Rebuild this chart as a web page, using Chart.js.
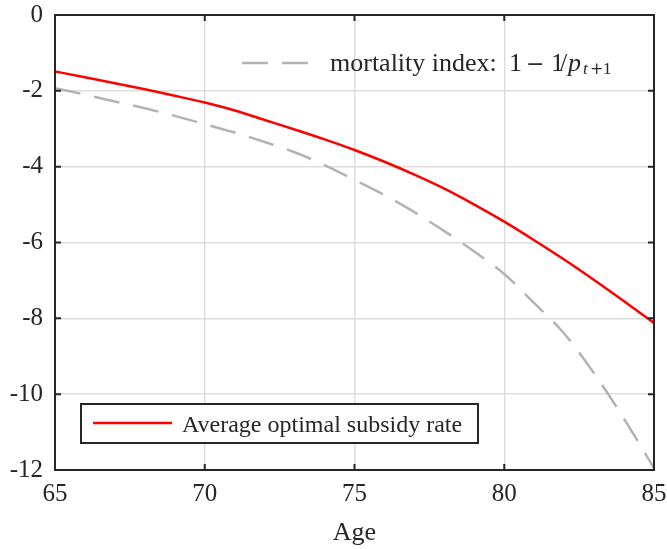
<!DOCTYPE html>
<html>
<head>
<meta charset="utf-8">
<script src="https://cdn.jsdelivr.net/npm/chart.js@4"></script>
<style>
  html, body { margin: 0; padding: 0; background: #ffffff; }
  canvas { display: block; }
</style>
</head>
<body>
<canvas id="grafico" width="667" height="549"></canvas>
<script>
// values by age
const ages = [65, 66, 67, 68, 69, 70, 71, 72, 73, 74, 75, 76, 77, 78, 79, 80, 81, 82, 83, 84, 85];
const subsidyRate = [-1.49, -1.64, -1.80, -1.96, -2.13, -2.31, -2.52, -2.77, -3.02, -3.28, -3.56, -3.87, -4.21, -4.58, -5.00, -5.45, -5.94, -6.45, -6.99, -7.55, -8.12];
const mortalityIndex = [-1.93, -2.10, -2.28, -2.46, -2.66, -2.88, -3.10, -3.35, -3.62, -3.96, -4.35, -4.75, -5.20, -5.70, -6.24, -6.83, -7.60, -8.40, -9.45, -10.65, -11.95];

const xTicks = [65, 70, 75, 80, 85];
const yTicks = [0, -2, -4, -6, -8, -10, -12];

const INK = "#262626";
const GRID = "#dddddd";
const SERIF = "'Liberation Serif', 'Times New Roman', serif";
const WIDE_SERIF = "'DejaVu Serif', serif";

function pontos(valores) {
    return ages.map((a, i) => ({ x: a, y: valores[i] }));
}

// keep the plot box fixed: no extra room for overhanging tick labels
function semSobra(s) {
    s.paddingTop = 0;
    s.paddingBottom = 0;
    s.paddingLeft = 0;
    s.paddingRight = 0;
}

// frame around the plot with inward tick marks on every side
const moldura = {
    id: "moldura",
    afterDatasetsDraw(chart) {
        const { ctx, chartArea: a, scales } = chart;
        const len = 6;
        ctx.save();
        ctx.strokeStyle = INK;
        ctx.lineWidth = 2;
        ctx.beginPath();
        xTicks.forEach(v => {
            const px = scales.x.getPixelForValue(v);
            ctx.moveTo(px, a.bottom); ctx.lineTo(px, a.bottom - len);
            ctx.moveTo(px, a.top); ctx.lineTo(px, a.top + len);
        });
        yTicks.forEach(v => {
            const py = scales.y.getPixelForValue(v);
            ctx.moveTo(a.left, py); ctx.lineTo(a.left + len, py);
            ctx.moveTo(a.right, py); ctx.lineTo(a.right - len, py);
        });
        ctx.stroke();
        ctx.strokeRect(a.left, a.top, a.right - a.left, a.bottom - a.top);
        ctx.restore();
    }
};

// two separate legends: plain one top right, boxed one bottom left
const legendas = {
    id: "legendas",
    afterDraw(chart) {
        const ctx = chart.ctx;
        const ds = chart.data.datasets;
        ctx.save();

        // mortality index legend
        ctx.strokeStyle = ds[1].borderColor;
        ctx.lineWidth = ds[1].borderWidth;
        ctx.setLineDash(ds[1].borderDash);
        ctx.beginPath();
        ctx.moveTo(242, 63);
        ctx.lineTo(312, 63);
        ctx.stroke();
        ctx.setLineDash([]);

        ctx.fillStyle = INK;
        ctx.textBaseline = "alphabetic";
        ctx.textAlign = "left";
        const base = 71;
        ctx.font = "26px " + SERIF;
        ctx.fillText("mortality index:", 330, base);

        // 1 − 1/p_{t+1}, laid out piece by piece
        const formula = [
            ["1", 509, "26px ", SERIF, 0],
            ["\u2212", 526, "22px ", WIDE_SERIF, 0],
            ["1", 551, "26px ", SERIF, 0],
            ["/", 560, "26px ", SERIF, 0],
            ["p", 568, "italic 26px ", SERIF, 0],
            ["t", 583, "italic 17px ", SERIF, 3],
            ["+", 590, "16px ", WIDE_SERIF, 3],
            ["1", 603, "17px ", SERIF, 3]
        ];
        formula.forEach(p => {
            ctx.font = p[2] + p[3];
            ctx.fillText(p[0], p[1], base + p[4]);
        });

        // subsidy rate legend in a box
        ctx.fillStyle = "#ffffff";
        ctx.fillRect(81, 404, 397, 39);
        ctx.strokeStyle = INK;
        ctx.lineWidth = 2;
        ctx.strokeRect(81, 404, 397, 39);

        ctx.strokeStyle = ds[0].borderColor;
        ctx.lineWidth = ds[0].borderWidth;
        ctx.beginPath();
        ctx.moveTo(93, 423);
        ctx.lineTo(172, 423);
        ctx.stroke();

        ctx.fillStyle = INK;
        ctx.font = "24px " + SERIF;
        ctx.fillText(ds[0].label, 182, 432);

        ctx.restore();
    }
};

new Chart(document.getElementById("grafico"), {
    type: "line",
    data: {
        datasets: [{
            label: "Average optimal subsidy rate",
            data: pontos(subsidyRate),
            borderColor: "#ff0000",
            borderWidth: 2.5,
            pointRadius: 0,
            cubicInterpolationMode: "monotone",
            fill: false
        }, {
            label: "mortality index",
            data: pontos(mortalityIndex),
            borderColor: "#b3b3b3",
            borderWidth: 2.5,
            borderDash: [26, 14],
            pointRadius: 0,
            cubicInterpolationMode: "monotone",
            fill: false
        }]
    },
    options: {
        responsive: false,
        animation: false,
        layout: { padding: { top: 15, right: 13, left: 0, bottom: 0 } },
        plugins: {
            legend: { display: false },
            tooltip: { enabled: false }
        },
        scales: {
            x: {
                type: "linear",
                min: 65,
                max: 85,
                afterBuildTicks(s) { s.ticks = xTicks.map(v => ({ value: v })); },
                afterFit(s) { s.height = 79; semSobra(s); },
                ticks: {
                    color: INK,
                    font: { family: SERIF, size: 25 },
                    padding: 9,
                    maxRotation: 0
                },
                grid: { color: GRID, lineWidth: 1.5, drawTicks: false },
                border: { display: false },
                title: {
                    display: true,
                    text: "Age",
                    color: INK,
                    font: { family: SERIF, size: 26 },
                    padding: { top: 0, bottom: 0 }
                }
            },
            y: {
                min: -12,
                max: 0,
                afterBuildTicks(s) { s.ticks = yTicks.slice().reverse().map(v => ({ value: v })); },
                afterFit(s) { s.width = 55; semSobra(s); },
                ticks: {
                    color: INK,
                    font: { family: SERIF, size: 25 },
                    padding: 12
                },
                grid: { color: GRID, lineWidth: 1.5, drawTicks: false },
                border: { display: false }
            }
        }
    },
    plugins: [moldura, legendas]
});
</script>
</body>
</html>
